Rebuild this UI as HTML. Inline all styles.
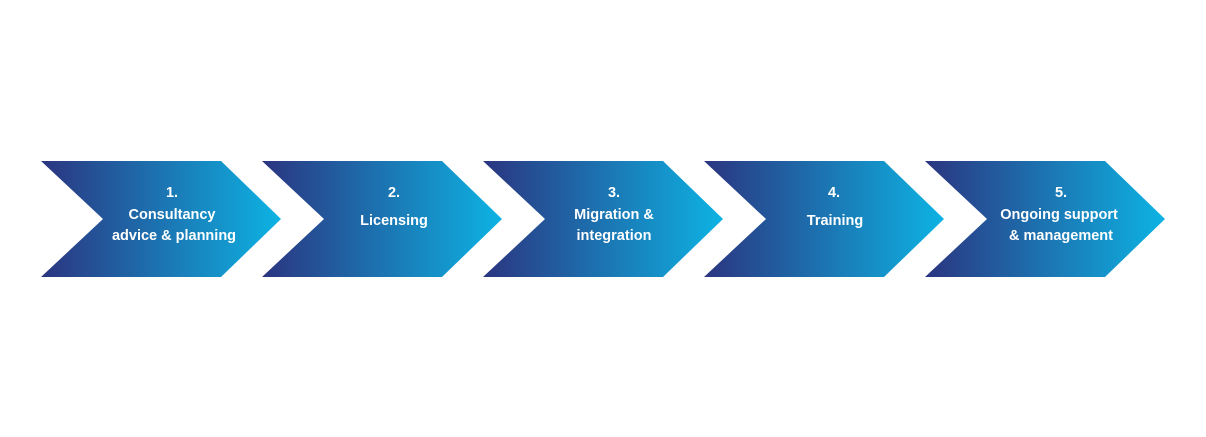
<!DOCTYPE html>
<html><head><meta charset="utf-8"><style>
html,body{margin:0;padding:0;background:#fff;width:1206px;height:437px;overflow:hidden}
svg{display:block}
text{font-family:"Liberation Sans",sans-serif;font-weight:bold;font-size:14.5px;fill:#fff;text-anchor:middle}
</style></head><body>
<svg width="1206" height="437" viewBox="0 0 1206 437">
<defs>
<linearGradient id="g" x1="0" y1="0" x2="1" y2="0">
<stop offset="0" stop-color="#2b3580"/>
<stop offset="1" stop-color="#0db3e3"/>
</linearGradient>
<polygon id="c" points="0,0 180,0 240,58 180,116 0,116 62,58" fill="url(#g)"/>
</defs>
<use href="#c" x="41" y="161"/>
<use href="#c" x="262" y="161"/>
<use href="#c" x="483" y="161"/>
<use href="#c" x="704" y="161"/>
<use href="#c" x="925" y="161"/>
<text x="172" y="197">1.</text>
<text x="172" y="219">Consultancy</text>
<text x="174" y="240">advice &amp; planning</text>
<text x="394" y="197">2.</text>
<text x="394" y="225">Licensing</text>
<text x="614" y="197">3.</text>
<text x="614" y="219">Migration &amp;</text>
<text x="614" y="240">integration</text>
<text x="834" y="197">4.</text>
<text x="835" y="225">Training</text>
<text x="1061" y="197">5.</text>
<text x="1059" y="219">Ongoing support</text>
<text x="1061" y="240">&amp; management</text>
</svg>
</body></html>
